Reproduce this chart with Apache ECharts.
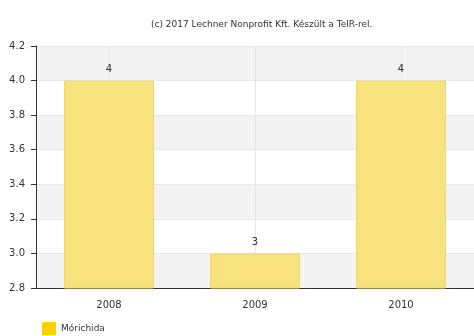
<!DOCTYPE html>
<html><head><meta charset="utf-8">
<script src="https://cdn.jsdelivr.net/npm/echarts@6/dist/echarts.min.js"></script>
<style>html,body{margin:0;padding:0;background:#fff}#c{width:474px;height:336px}</style>
</head><body><div id="c"></div>
<script>
const categories = ['2008', '2009', '2010'];
const values = [4, 3, 4];
const seriesName = 'Mórichida';
const yTicks = { min: 2.8, max: 4.2, interval: 0.2 };
const titleText = '(c) 2017 Lechner Nonprofit Kft. Készült a TeIR-rel.';

const chart = echarts.init(document.getElementById('c'), null, { renderer: 'canvas' });
chart.setOption({
  animation: false,
  title: { text: titleText, left: 146, top: 15,
    textStyle: { fontFamily: 'Verdana, DejaVu Sans, sans-serif', fontSize: 9, fontWeight: 'normal', color: '#333' } },
  grid: { left: 36, right: -3, top: 46, bottom: 48, containLabel: false },
  legend: { left: 42, top: 322, padding: 0, itemWidth: 14, itemHeight: 13, itemGap: 6, icon: 'rect',
    data: [{ name: seriesName, itemStyle: { color: '#FFD100', borderWidth: 0 } }],
    textStyle: { fontFamily: 'Verdana, DejaVu Sans, sans-serif', fontSize: 9, color: '#333' } },
  xAxis: { type: 'category', data: categories,
    axisLine: { lineStyle: { color: '#333', width: 1 } },
    axisTick: { alignWithLabel: true, length: 5, lineStyle: { color: '#333' } },
    axisLabel: { color: '#333', fontSize: 10, margin: 12, fontFamily: 'Verdana, DejaVu Sans, sans-serif' },
    splitLine: { show: true, alignWithLabel: true, lineStyle: { color: '#e6e6e6' } } },
  yAxis: { type: 'value', min: yTicks.min, max: yTicks.max, interval: yTicks.interval,
    axisLine: { show: true, lineStyle: { color: '#333' } },
    axisTick: { show: true, length: 5, lineStyle: { color: '#333' } },
    axisLabel: { color: '#333', fontSize: 10, margin: 11, fontFamily: 'Verdana, DejaVu Sans, sans-serif',
      formatter: v => v.toFixed(1) },
    splitLine: { show: true, lineStyle: { color: '#e8e8e8' } },
    splitArea: { show: true, areaStyle: { color: ['#f3f3f3', '#ffffff'] } } },
  series: [{ name: seriesName, type: 'bar', data: values, barWidth: 90,
    itemStyle: { color: '#F8E27D', borderColor: '#F2D765', borderWidth: 1 },
    label: { show: true, position: 'top', distance: 6, color: '#333', fontSize: 10,
      fontFamily: 'Verdana, DejaVu Sans, sans-serif' } }]
});
</script></body></html>
